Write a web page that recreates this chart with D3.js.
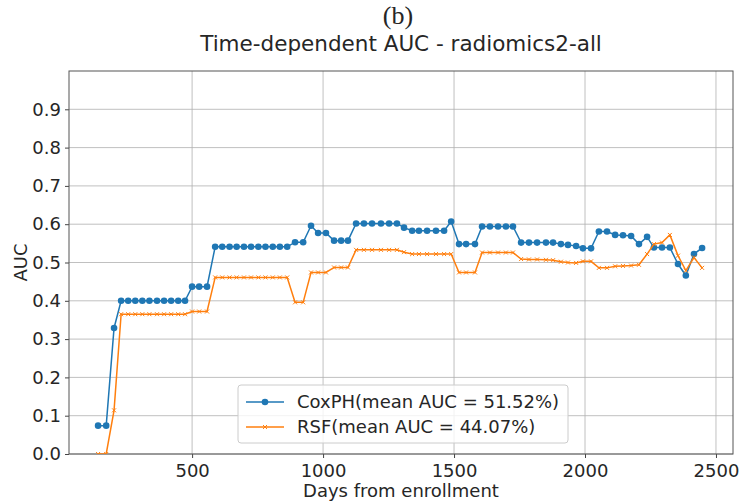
<!DOCTYPE html>
<html>
<head>
<meta charset="utf-8">
<script src="https://cdn.jsdelivr.net/npm/d3@7"></script>
<style>
  body { margin: 0; background: #fff; }
  text { font-family: "DejaVu Sans", sans-serif; fill: #262626; }
</style>
</head>
<body>
<svg id="chart" width="741" height="504"></svg>
<script>
// days from enrollment
var days = [141, 172, 202, 229, 256, 283, 310, 337, 366, 393, 420, 447, 473,
  500, 527, 557, 588, 615, 643, 670, 698, 725, 753, 780, 808, 835, 863,
  893, 924, 954, 981, 1011, 1042, 1069, 1095,
  1126, 1156, 1187, 1221, 1252, 1282, 1309, 1340, 1366, 1397, 1431, 1462,
  1489, 1519, 1546, 1580, 1607, 1637, 1668, 1698, 1725,
  1756, 1786, 1817, 1851, 1878, 1908, 1935, 1966, 1992, 2023,
  2053, 2084, 2115, 2145, 2176, 2206, 2237, 2263, 2294, 2324, 2355, 2385, 2416, 2447];

var coxAUC = [0.074, 0.074, 0.329, 0.40, 0.40, 0.40, 0.40, 0.40, 0.40, 0.40, 0.40, 0.40, 0.40,
  0.437, 0.437, 0.437, 0.541, 0.541, 0.541, 0.541, 0.541, 0.541, 0.541, 0.541, 0.541, 0.541, 0.541,
  0.553, 0.553, 0.596, 0.577, 0.577, 0.557, 0.557, 0.557,
  0.602, 0.602, 0.602, 0.602, 0.602, 0.602, 0.591, 0.583, 0.583, 0.583, 0.583, 0.583,
  0.607, 0.548, 0.548, 0.548, 0.594, 0.594, 0.594, 0.594, 0.594,
  0.552, 0.552, 0.552, 0.552, 0.552, 0.548, 0.546, 0.543, 0.537, 0.537,
  0.581, 0.581, 0.572, 0.571, 0.569, 0.548, 0.567, 0.539, 0.539, 0.539, 0.496, 0.466, 0.522, 0.538];

var rsfAUC = [0, 0, 0.114, 0.365, 0.365, 0.365, 0.365, 0.365, 0.365, 0.365, 0.365, 0.365, 0.365,
  0.372, 0.372, 0.372, 0.461, 0.461, 0.461, 0.461, 0.461, 0.461, 0.461, 0.461, 0.461, 0.461, 0.461,
  0.396, 0.396, 0.474, 0.474, 0.474, 0.487, 0.487, 0.487,
  0.533, 0.533, 0.533, 0.533, 0.533, 0.533, 0.527, 0.522, 0.522, 0.522, 0.522, 0.522,
  0.522, 0.474, 0.474, 0.474, 0.526, 0.526, 0.526, 0.526, 0.526,
  0.509, 0.508, 0.508, 0.507, 0.506, 0.502, 0.500, 0.499, 0.503, 0.503,
  0.486, 0.486, 0.490, 0.491, 0.492, 0.494, 0.522, 0.548, 0.552, 0.572, 0.518, 0.479, 0.513, 0.486];

var xTicks = [500, 1000, 1500, 2000, 2500];
var yTicks = [0, 0.1, 0.2, 0.3, 0.4, 0.5, 0.6, 0.7, 0.8, 0.9];
var seriesNames = ["CoxPH(mean AUC = 51.52%)", "RSF(mean AUC = 44.07%)"];
var seriesColors = ["#1f77b4", "#ff7f0e"];

var svg = d3.select("#chart");
var m = {left: 69, right: 733, top: 71, bottom: 454};

var x = d3.scaleLinear().domain([30, 2565]).range([m.left, m.right]);
var y = d3.scaleLinear().domain([0, 1]).range([m.bottom, m.top]);

// grid
svg.append("g").selectAll("line").data(xTicks).enter().append("line")
  .attr("x1", function(d) { return x(d); }).attr("x2", function(d) { return x(d); })
  .attr("y1", m.top).attr("y2", m.bottom)
  .attr("stroke", "#b0b0b0").attr("stroke-width", 0.8);
svg.append("g").selectAll("line").data(yTicks).enter().append("line")
  .attr("x1", m.left).attr("x2", m.right)
  .attr("y1", function(d) { return y(d); }).attr("y2", function(d) { return y(d); })
  .attr("stroke", "#b0b0b0").attr("stroke-width", 0.8);

// axes
var xAxis = svg.append("g").attr("transform", "translate(0," + m.bottom + ")")
  .call(d3.axisBottom(x).tickValues(xTicks).tickSize(4).tickPadding(4).tickFormat(d3.format("d")));
var yAxis = svg.append("g").attr("transform", "translate(" + m.left + ",0)")
  .call(d3.axisLeft(y).tickValues(yTicks).tickSize(4).tickPadding(4).tickFormat(d3.format(".1f")));
[xAxis, yAxis].forEach(function(a) {
  a.select(".domain").remove();
  a.selectAll("line").attr("stroke", "#444");
  a.selectAll("text").style("font-size", "18px").style("font-family", "DejaVu Sans").attr("fill", "#262626");
});
xAxis.selectAll("text").attr("dy", "0.85em");

// frame
svg.append("rect")
  .attr("x", m.left).attr("y", m.top)
  .attr("width", m.right - m.left).attr("height", m.bottom - m.top)
  .attr("fill", "none").attr("stroke", "#555").attr("stroke-width", 1);

svg.append("clipPath").attr("id", "clip").append("rect")
  .attr("x", m.left).attr("y", m.top - 5)
  .attr("width", m.right - m.left).attr("height", m.bottom - m.top + 5);

var plot = svg.append("g").attr("clip-path", "url(#clip)");
var line = d3.line();

// CoxPH
var coxPts = days.map(function(d, i) { return [x(d), y(coxAUC[i])]; });
plot.append("path").attr("d", line(coxPts))
  .attr("fill", "none").attr("stroke", seriesColors[0]).attr("stroke-width", 1.5);
plot.append("g").selectAll("circle").data(coxPts).enter().append("circle")
  .attr("cx", function(d) { return d[0]; }).attr("cy", function(d) { return d[1]; })
  .attr("r", 3.3).attr("fill", seriesColors[0]);

// RSF
var rsfPts = days.map(function(d, i) { return [x(d), y(rsfAUC[i])]; });
plot.append("path").attr("d", line(rsfPts))
  .attr("fill", "none").attr("stroke", seriesColors[1]).attr("stroke-width", 1.5);
plot.append("g").selectAll("path.mk").data(rsfPts).enter().append("path")
  .attr("class", "mk")
  .attr("d", function(d) {
    var s = 2;
    return "M" + (d[0] - s) + "," + (d[1] - s) + "L" + (d[0] + s) + "," + (d[1] + s) +
      "M" + (d[0] - s) + "," + (d[1] + s) + "L" + (d[0] + s) + "," + (d[1] - s);
  })
  .attr("stroke", seriesColors[1]).attr("stroke-width", 1);

// legend
var lg = svg.append("g").attr("transform", "translate(238,385)");
lg.append("rect").attr("width", 330).attr("height", 58).attr("rx", 3)
  .attr("fill", "#fff").attr("fill-opacity", 0.8)
  .attr("stroke", "#cccccc").attr("stroke-width", 1);
seriesNames.forEach(function(name, i) {
  var ly = 17 + i * 25;
  lg.append("line").attr("x1", 8).attr("x2", 46).attr("y1", ly).attr("y2", ly)
    .attr("stroke", seriesColors[i]).attr("stroke-width", 1.5);
  if (i === 0) {
    lg.append("circle").attr("cx", 27).attr("cy", ly).attr("r", 3.3).attr("fill", seriesColors[i]);
  } else {
    lg.append("path").attr("d", "M25," + (ly - 2) + "L29," + (ly + 2) + "M25," + (ly + 2) + "L29," + (ly - 2))
      .attr("stroke", seriesColors[i]).attr("stroke-width", 1);
  }
  lg.append("text").attr("x", 59).attr("y", ly).attr("dy", "0.35em")
    .style("font-size", "18px").text(name);
});

// labels
svg.append("text").attr("x", (m.left + m.right) / 2).attr("y", 497)
  .attr("text-anchor", "middle").style("font-size", "18px").text("Days from enrollment");
svg.append("text").attr("transform", "translate(27," + ((m.top + m.bottom) / 2) + ") rotate(-90)")
  .attr("text-anchor", "middle").style("font-size", "18px").text("AUC");
svg.append("text").attr("x", (m.left + m.right) / 2).attr("y", 51)
  .attr("text-anchor", "middle").style("font-size", "21.5px").text("Time-dependent AUC - radiomics2-all");
svg.append("text").attr("x", 398).attr("y", 24)
  .attr("text-anchor", "middle").style("font-size", "26px").style("font-family", "Liberation Serif")
  .text("(b)");
</script>
</body>
</html>
